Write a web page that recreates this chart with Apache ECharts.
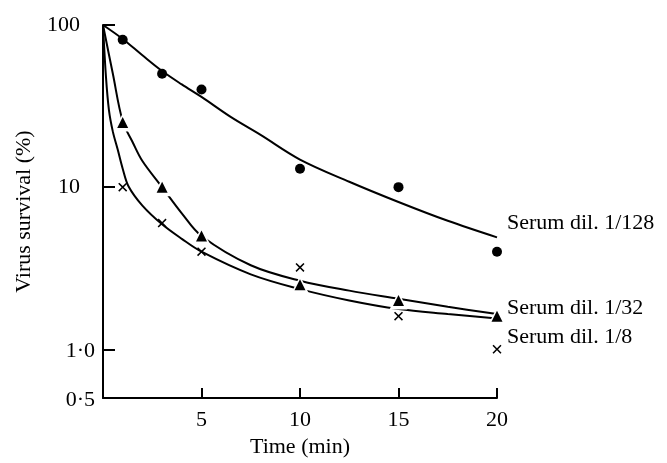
<!DOCTYPE html>
<html>
<head>
<meta charset="utf-8">
<script src="https://cdn.jsdelivr.net/npm/echarts@6/dist/echarts.min.js"></script>
<style>
html,body{margin:0;padding:0;background:#fff;}
#chart{width:667px;height:463px;}
</style>
</head>
<body>
<div id="chart"></div>
<script>
// Measured points
var times = [1, 3, 5, 10, 15, 20];
var dil128 = [81, 50, 40, 13, 10, 4];
var dil32 = [25, 10, 5, 2.5, 2.0, 1.6];
var dil8 = [10, 6, 4, 3.2, 1.6, 1.0];

// Fitted curves
var fit128X = [0, 1, 2, 3, 4, 5, 6.5, 8, 10, 12.5, 15, 17.5, 20];
var fit128Y = [100, 82, 65, 52, 43, 36, 27, 21, 14.8, 10.8, 8.1, 6.2, 4.9];
var fit32X = [0, 0.5, 1, 1.5, 2, 3, 4, 5, 7.5, 10, 12.5, 15, 17.5, 20];
var fit32Y = [100, 50, 25.5, 19, 14.5, 10, 6.9, 5.0, 3.3, 2.65, 2.3, 2.05, 1.83, 1.65];
var fit8X = [0, 0.15, 0.3, 0.5, 0.75, 1, 1.3, 2, 3, 4, 5, 7.5, 10, 12.5, 15, 17.5, 20];
var fit8Y = [100, 48, 30, 22, 17, 13, 10.1, 7.7, 5.9, 4.8, 4.0, 2.9, 2.35, 2.0, 1.77, 1.65, 1.55];

var seriesNames = ['Serum dil. 1/128', 'Serum dil. 1/32', 'Serum dil. 1/8'];
var yTickLabels = {'0.5': '0·5', '1': '1·0', '10': '10', '100': '100'};

function pairs(xs, ys) { return xs.map(function (x, i) { return [x, ys[i]]; }); }

var FONT = '"Liberation Serif", "Times New Roman", serif';
var chart = echarts.init(document.getElementById('chart'), null, {renderer: 'canvas'});

var crossPath = 'path://M0,1.2 L1.2,0 L5,3.8 L8.8,0 L10,1.2 L6.2,5 L10,8.8 L8.8,10 L5,6.2 L1.2,10 L0,8.8 L3.8,5 Z';

function curve(xs, ys, name, dy) {
  return {
    type: 'line', name: name, data: pairs(xs, ys), smooth: 0.35,
    symbol: 'none', silent: true,
    lineStyle: {color: '#000', width: 2, type: 'solid'},
    endLabel: {
      show: true, formatter: name, color: '#000', fontFamily: FONT, fontSize: 22,
      offset: [4, dy], distance: 6
    },
    z: 2
  };
}

chart.setOption({
  animation: false,
  backgroundColor: '#fff',
  grid: {left: 103, right: 170, top: 25, bottom: 56, containLabel: false},
  xAxis: {
    type: 'value', min: 0, max: 20, interval: 5,
    axisLine: {onZero: false, lineStyle: {color: '#000', width: 2}},
    axisTick: {inside: true, length: 10, lineStyle: {color: '#000', width: 2}},
    splitLine: {show: false},
    axisLabel: {
      color: '#000', fontFamily: FONT, fontSize: 22, margin: 11,
      formatter: function (v) { return v === 0 ? '' : String(v); }
    },
    name: 'Time (min)', nameLocation: 'middle', nameGap: 36,
    nameTextStyle: {color: '#000', fontFamily: FONT, fontSize: 22}
  },
  yAxis: {
    type: 'log', logBase: 10, min: 0.5, max: 100,
    axisLine: {onZero: false, lineStyle: {color: '#000', width: 2}},
    axisTick: {inside: true, length: 12, lineStyle: {color: '#000', width: 2}},
    splitLine: {show: false},
    axisLabel: {
      color: '#000', fontFamily: FONT, fontSize: 22, margin: 8,
      formatter: function (v) {
        var k = String(Math.round(v * 100) / 100);
        var t = yTickLabels[k] !== undefined ? yTickLabels[k] : k;
        return v >= 10 ? '{w|' + t + '}' : '{n|' + t + '}';
      },
      rich: {
        w: {fontFamily: FONT, fontSize: 22, color: '#000', padding: [0, 15, 0, 0]},
        n: {fontFamily: FONT, fontSize: 22, color: '#000', padding: [4, 0, 0, 0]}
      }
    },
    name: 'Virus survival (%)', nameLocation: 'middle', nameGap: 68,
    nameTextStyle: {color: '#000', fontFamily: FONT, fontSize: 22}
  },
  series: [
    curve(fit128X, fit128Y, seriesNames[0], -14),
    curve(fit32X, fit32Y, seriesNames[1], -6),
    curve(fit8X, fit8Y, seriesNames[2], 19),
    {
      type: 'scatter', data: pairs(times, dil128), symbol: 'circle', symbolSize: 10,
      itemStyle: {color: '#000', opacity: 1}, silent: true, z: 3
    },
    {
      type: 'scatter', data: pairs(times, dil32), symbol: 'triangle', symbolSize: 18,
      itemStyle: {color: '#fff', opacity: 1}, silent: true, z: 3
    },
    {
      type: 'scatter', data: pairs(times, dil32), symbol: 'triangle', symbolSize: 11,
      itemStyle: {color: '#000', opacity: 1}, silent: true, z: 4
    },
    {
      type: 'scatter', data: pairs(times, dil8), symbol: crossPath, symbolSize: 9,
      itemStyle: {color: '#000', opacity: 1}, silent: true, z: 4
    }
  ]
});
</script>
</body>
</html>
